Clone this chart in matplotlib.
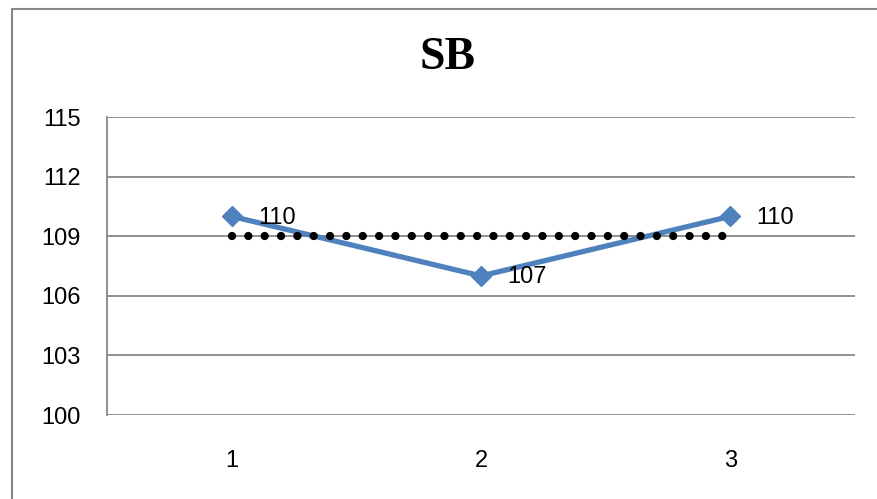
import matplotlib.pyplot as plt
from matplotlib.patches import Rectangle

# data
categories = [1, 2, 3]
values = [110, 107, 110]
average = [109, 109, 109]
yticks = [100, 103, 106, 109, 112, 115]

W, H, DPI = 877, 499, 100
fig = plt.figure(figsize=(W / DPI, H / DPI), dpi=DPI)

# outer chart frame (runs off the right and bottom edges)
fig.patches.append(Rectangle((12 / W, -0.1), 1.1, 1.1 - 9 / H, transform=fig.transFigure,
                             fill=False, edgecolor='#878787', linewidth=1.5))

ax = fig.add_axes([107 / W, 1 - 415 / H, (855 - 107) / W, (415 - 117) / H])
ax.set_xlim(0.5, 3.5)
ax.set_ylim(100, 115)
ax.set_yticks(yticks)
ax.set_xticks(categories)

grid_c = '#878787'
for y in yticks:
    ax.axhline(y, color=grid_c, linewidth=1.3, zorder=1)
for s in ['top', 'right', 'bottom']:
    ax.spines[s].set_visible(False)
ax.spines['left'].set_color(grid_c)
ax.spines['left'].set_linewidth(1.3)

ax.tick_params(length=0, labelsize=17)
ax.tick_params(axis='y', pad=19)
ax.tick_params(axis='x', pad=25)
for lab in ax.get_xticklabels() + ax.get_yticklabels():
    lab.set_fontfamily('Liberation Sans')

# series line with diamond markers
ax.plot(categories, values, color='#4F81BD', linewidth=3.8, marker='D',
        markersize=10.5, zorder=3)

# dotted average line
ax.plot(categories, average, color='black', linewidth=6,
        linestyle=(0, (0.001, 1.96)), dash_capstyle='round', zorder=4)

# value labels
for x, v in zip(categories, values):
    ax.annotate(f'{v}', (x, v), xytext=(19, -1), textcoords='offset points',
                ha='left', va='center', fontsize=17, family='Liberation Sans', zorder=5)

fig.text(448 / W, 1 - 58 / H, 'SB', ha='center', va='center', fontsize=33,
         fontweight='bold', family='Liberation Serif')

fig.savefig('out.png', dpi=DPI)
